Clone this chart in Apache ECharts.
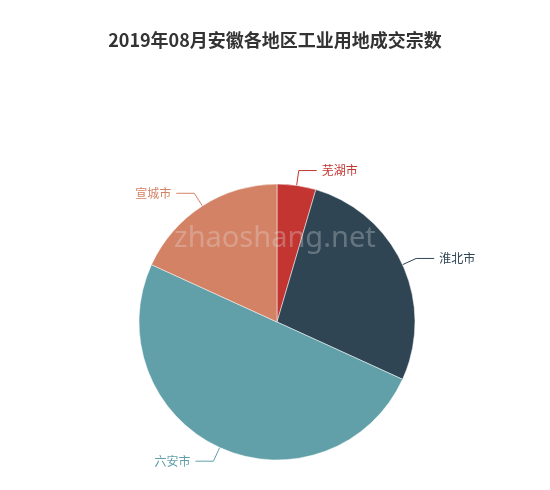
<!DOCTYPE html>
<html>
<head>
<meta charset="utf-8">
<script src="https://cdn.jsdelivr.net/npm/echarts@6/dist/echarts.min.js"></script>
<style>
  html, body { margin: 0; padding: 0; background: #fff; }
  #chart { width: 550px; height: 490px; }
</style>
</head>
<body>
<div id="chart"></div>
<script>
const cities = ['芜湖市', '淮北市', '六安市', '宣城市'];
const counts = [1, 6, 11, 4];
const colors = ['#c23531', '#2f4554', '#61a0a8', '#d48265'];

const chart = echarts.init(document.getElementById('chart'));

const option = {
  backgroundColor: '#fff',
  color: colors,
  title: {
    text: '2019年08月安徽各地区工业用地成交宗数',
    left: 'center',
    top: 26,
    textStyle: {
      fontSize: 18,
      fontWeight: 'bold',
      color: '#333',
      fontFamily: 'Noto Sans CJK SC'
    }
  },
  graphic: [{
    type: 'text',
    left: 174,
    top: 224,
    z: 100,
    style: {
      text: 'zhaoshang.net',
      fontSize: 29,
      fontFamily: 'Noto Sans',
      fill: 'rgba(230, 230, 230, 0.3)'
    }
  }],
  series: [{
    type: 'pie',
    center: [277, 322],
    radius: 138,
    startAngle: 90,
    animation: false,
    data: cities.map((name, i) => ({
      name,
      value: counts[i],
      label: { color: colors[i] }
    })),
    itemStyle: {
      borderColor: '#fff',
      borderWidth: 0.5
    },
    label: {
      fontSize: 12,
      fontFamily: 'Noto Sans CJK SC'
    },
    labelLine: {
      length: 15,
      length2: 18
    }
  }]
};

chart.setOption(option);
</script>
</body>
</html>
